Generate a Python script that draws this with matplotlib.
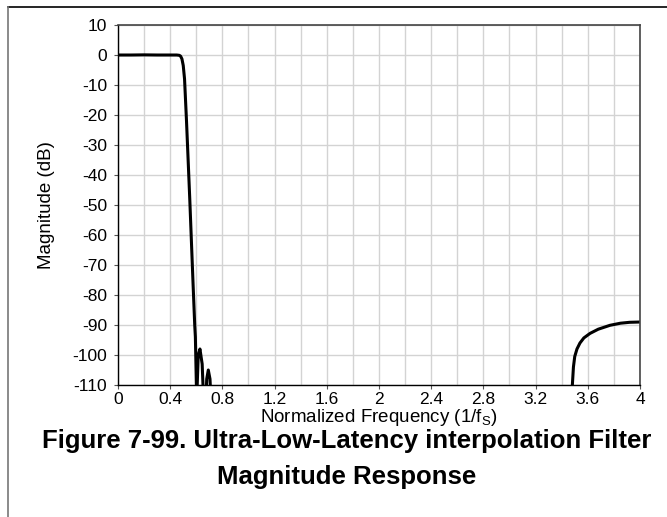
import matplotlib
matplotlib.use("Agg")
import matplotlib.pyplot as plt
from matplotlib.lines import Line2D

plt.rcParams['font.family'] = ['Liberation Sans', 'DejaVu Sans']
plt.rcParams['mathtext.fontset'] = 'custom'
plt.rcParams['mathtext.rm'] = 'Liberation Sans'
plt.rcParams['mathtext.it'] = 'Liberation Sans'
plt.rcParams['axes.unicode_minus'] = False

# passband + transition + stopband ripples
freq_main = [0.0, 0.1, 0.2, 0.3, 0.4, 0.45, 0.47, 0.48, 0.49, 0.50, 0.51, 0.525,
             0.55, 0.575, 0.588, 0.593, 0.603, 0.615, 0.628, 0.645, 0.665,
             0.68, 0.692, 0.705, 0.723]
mag_main = [0.0, 0.0, 0.05, 0.0, 0.0, 0.0, -0.1, -0.4, -1.3, -3.5, -8.0, -22.0,
            -48.0, -76.0, -90.0, -94.0, -115.0, -100.0, -98.0, -103.0, -125.0,
            -108.0, -105.0, -108.0, -125.0]

# image band near 4/fs
freq_img = [3.479, 3.49, 3.50, 3.517, 3.54, 3.57, 3.617, 3.68, 3.77, 3.85, 3.92, 4.0]
mag_img = [-112.0, -104.0, -100.5, -98.0, -96.0, -94.3, -92.8, -91.4, -90.1, -89.4, -89.1, -89.0]

x_ticks = [0, 0.4, 0.8, 1.2, 1.6, 2, 2.4, 2.8, 3.2, 3.6, 4]
x_ticklabels = ['0', '0.4', '0.8', '1.2', '1.6', '2', '2.4', '2.8', '3.2', '3.6', '4']
y_ticks = list(range(-110, 11, 10))

fig = plt.figure(figsize=(6.67, 5.17), dpi=100)
ax = fig.add_axes([0.1769, 0.2553, 0.7826, 0.6963])

ax.plot(freq_main, mag_main, color='black', linewidth=2.2, solid_joinstyle='round')
ax.plot(freq_img, mag_img, color='black', linewidth=2.2, solid_joinstyle='round')

ax.set_xlim(0, 4)
ax.set_ylim(-110, 10)
ax.set_xticks(x_ticks)
ax.set_xticklabels(x_ticklabels)
ax.set_xticks([i * 0.2 for i in range(21)], minor=True)
ax.set_yticks(y_ticks)
ax.grid(True, which='both', color='#d3d3d3', linewidth=1.0)
ax.set_axisbelow(True)
ax.tick_params(axis='both', which='major', labelsize=12.5, length=3, width=0.8,
               color='#555555', pad=2)
ax.tick_params(axis='y', which='major', pad=5)
ax.tick_params(axis='x', which='minor', length=0)
for side in ['top', 'right']:
    ax.spines[side].set_color('#444444')
    ax.spines[side].set_linewidth(1.2)
for side in ['left', 'bottom']:
    ax.spines[side].set_color('black')
    ax.spines[side].set_linewidth(1.0)

ax.set_xlabel(r'Normalized Frequency (1/f$_\mathrm{S}$)', fontsize=13.5, labelpad=0)
ax.set_ylabel('Magnitude (dB)', fontsize=13.5, labelpad=12)

fig.text(0.52, 0.147, 'Figure 7-99. Ultra-Low-Latency interpolation Filter',
         ha='center', va='center', fontsize=18.5, fontweight='bold')
fig.text(0.52, 0.077, 'Magnitude Response',
         ha='center', va='center', fontsize=18.5, fontweight='bold')

# outer frame (top and left only)
fig.add_artist(Line2D([0.012, 1.0], [1 - 7 / 517, 1 - 7 / 517], transform=fig.transFigure,
                      color='black', linewidth=1.2))
fig.add_artist(Line2D([0.012, 0.012], [0.0, 1 - 7 / 517], transform=fig.transFigure,
                      color='#777777', linewidth=1.2))

fig.savefig('out.png', dpi=100)
